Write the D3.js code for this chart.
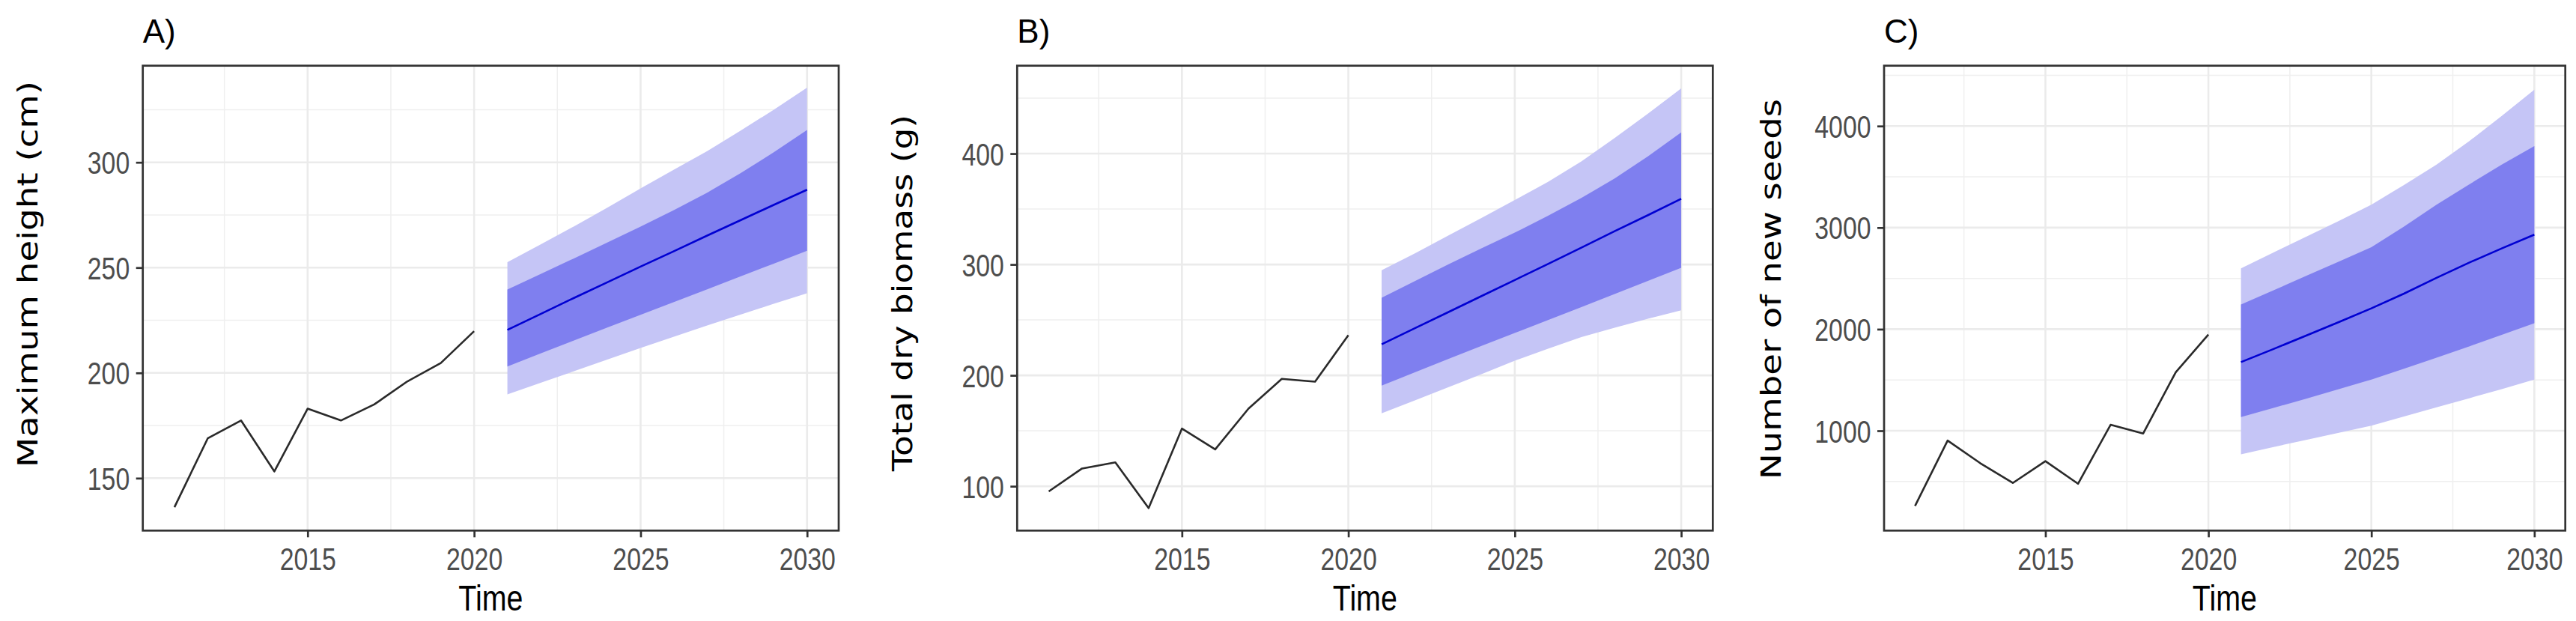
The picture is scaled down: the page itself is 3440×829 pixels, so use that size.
<!DOCTYPE html>
<html>
<head>
<meta charset="utf-8">
<script src="https://cdn.jsdelivr.net/npm/d3@7"></script>
<style>
  html, body { margin: 0; padding: 0; background: #ffffff; }
  svg { display: block; }
</style>
</head>
<body>
<svg id="chart" width="3440" height="829"></svg>
<script>
// ---------------- data ----------------
const obsYears = [2011, 2012, 2013, 2014, 2015, 2016, 2017, 2018, 2019, 2020];
const fcYears  = [2021, 2022, 2023, 2024, 2025, 2026, 2027, 2028, 2029, 2030];
const xTickValues = [2015, 2020, 2025, 2030];

const panelLabels = ["A)", "B)", "C)"];
const yTitles = ["Maximum height (cm)", "Total dry biomass (g)", "Number of new seeds"];
const xTitle = "Time";

// A) Maximum height
const heightObs  = [136.2, 168.9, 177.4, 153.2, 183.0, 177.4, 185.0, 196.0, 204.7, 219.8];
const heightMean = [220.4, 228.0, 235.6, 243.0, 250.5, 257.8, 265.2, 272.5, 279.8, 287.0];
const heightLo80 = [203.0, 209.3, 215.4, 221.5, 227.6, 233.6, 239.7, 245.8, 251.9, 258.0];
const heightHi80 = [239.6, 247.0, 254.4, 261.9, 269.5, 277.3, 285.6, 294.8, 304.8, 315.4];
const heightLo95 = [189.8, 195.3, 200.8, 206.3, 211.8, 217.2, 222.5, 227.7, 232.8, 237.8];
const heightHi95 = [252.6, 261.0, 269.6, 278.5, 287.6, 296.5, 305.3, 315.0, 325.0, 335.5];
const heightTicks = [150, 200, 250, 300];
const heightMinor = [175, 225, 275, 325];

// B) Total dry biomass
const biomassObs  = [95.3, 116.0, 121.5, 80.3, 152.0, 133.3, 170.0, 196.8, 194.3, 236.2];
const biomassMean = [228.0, 242.5, 257.0, 271.5, 286.0, 300.5, 315.2, 330.0, 344.5, 359.3];
const biomassLo80 = [190.7, 202.8, 214.7, 226.5, 238.2, 249.9, 261.6, 273.4, 285.2, 297.0];
const biomassHi80 = [270.0, 285.0, 300.0, 314.5, 328.7, 344.0, 360.0, 377.5, 397.5, 419.2];
const biomassLo95 = [165.8, 177.5, 189.2, 201.0, 213.3, 224.0, 234.5, 243.0, 251.0, 258.6];
const biomassHi95 = [294.8, 310.0, 326.0, 342.0, 358.1, 374.5, 393.0, 414.0, 436.0, 458.8];
const biomassTicks = [100, 200, 300, 400];
const biomassMinor = [150, 250, 350, 450];

// C) Number of new seeds
const seedsObs  = [260, 903, 681, 486, 700, 478, 1059, 973, 1577, 1947];
const seedsMean = [1676, 1805, 1937, 2070, 2205, 2350, 2505, 2655, 2795, 2930];
const seedsLo80 = [1135, 1225, 1315, 1410, 1504, 1610, 1720, 1830, 1945, 2058];
const seedsHi80 = [2242, 2383, 2524, 2665, 2807, 3010, 3225, 3425, 3620, 3803];
const seedsLo95 = [767, 840, 910, 980, 1050, 1140, 1230, 1320, 1410, 1504];
const seedsHi95 = [2598, 2755, 2910, 3065, 3225, 3420, 3620, 3850, 4100, 4357];
const seedsTicks = [1000, 2000, 3000, 4000];
const seedsMinor = [500, 1500, 2500, 3500, 4500];

// ---------------- drawing ----------------
const svg = d3.select("#chart");
const TICK_FONT = "'Liberation Sans Narrow', 'Arial Narrow', 'Liberation Sans', Arial, sans-serif";
const TITLE_FONT = "'DejaVu Sans', Verdana, sans-serif";

const panels = [
  { left: 190.7, right: 1120, yDomain: [125.1, 345.9], obs: heightObs, mean: heightMean,
    lo80: heightLo80, hi80: heightHi80, lo95: heightLo95, hi95: heightHi95,
    ticks: heightTicks, minor: heightMinor, titleX: 50, titleY: 366, titleLen: 516 },
  { left: 1358.3, right: 2287.3, yDomain: [60, 479.3], obs: biomassObs, mean: biomassMean,
    lo80: biomassLo80, hi80: biomassHi80, lo95: biomassLo95, hi95: biomassHi95,
    ticks: biomassTicks, minor: biomassMinor, titleX: 1218, titleY: 391, titleLen: 476 },
  { left: 2516, right: 3425.7, yDomain: [17, 4594], obs: seedsObs, mean: seedsMean,
    lo80: seedsLo80, hi80: seedsHi80, lo95: seedsLo95, hi95: seedsHi95,
    ticks: seedsTicks, minor: seedsMinor, titleX: 2378, titleY: 386, titleLen: 508 }
];

const TOP = 87.7, BOTTOM = 708.3;
const xMinor = [2012.5, 2017.5, 2022.5, 2027.5];

panels.forEach((p, i) => {
  const x = d3.scaleLinear().domain([2010.05, 2030.95]).range([p.left, p.right]);
  const y = d3.scaleLinear().domain(p.yDomain).range([BOTTOM, TOP]);
  const g = svg.append("g");

  g.append("rect").attr("x", p.left).attr("y", TOP)
    .attr("width", p.right - p.left).attr("height", BOTTOM - TOP).attr("fill", "#ffffff");

  // minor grid
  g.append("g").selectAll("line").data(p.minor).join("line")
    .attr("x1", p.left).attr("x2", p.right).attr("y1", d => y(d)).attr("y2", d => y(d))
    .attr("stroke", "#efefef").attr("stroke-width", 1.5);
  g.append("g").selectAll("line").data(xMinor).join("line")
    .attr("y1", TOP).attr("y2", BOTTOM).attr("x1", d => x(d)).attr("x2", d => x(d))
    .attr("stroke", "#efefef").attr("stroke-width", 1.5);
  // major grid
  g.append("g").selectAll("line").data(p.ticks).join("line")
    .attr("x1", p.left).attr("x2", p.right).attr("y1", d => y(d)).attr("y2", d => y(d))
    .attr("stroke", "#ebebeb").attr("stroke-width", 2.6);
  g.append("g").selectAll("line").data(xTickValues).join("line")
    .attr("y1", TOP).attr("y2", BOTTOM).attr("x1", d => x(d)).attr("x2", d => x(d))
    .attr("stroke", "#ebebeb").attr("stroke-width", 2.6);

  // forecast bands
  const fc = fcYears.map((yr, k) => ({ yr, mean: p.mean[k], lo80: p.lo80[k], hi80: p.hi80[k], lo95: p.lo95[k], hi95: p.hi95[k] }));
  g.append("path").datum(fc)
    .attr("d", d3.area().x(d => x(d.yr)).y0(d => y(d.lo95)).y1(d => y(d.hi95)))
    .attr("fill", "#c5c5f6");
  g.append("path").datum(fc)
    .attr("d", d3.area().x(d => x(d.yr)).y0(d => y(d.lo80)).y1(d => y(d.hi80)))
    .attr("fill", "#7f7fef");
  g.append("path").datum(fc)
    .attr("d", d3.line().x(d => x(d.yr)).y(d => y(d.mean)))
    .attr("fill", "none").attr("stroke", "#0000d2").attr("stroke-width", 2.6);

  // observed line
  const obs = obsYears.map((yr, k) => ({ yr, v: p.obs[k] }));
  g.append("path").datum(obs)
    .attr("d", d3.line().x(d => x(d.yr)).y(d => y(d.v)))
    .attr("fill", "none").attr("stroke", "#2a2a2a").attr("stroke-width", 2.6)
    .attr("stroke-linejoin", "round");

  // panel border
  g.append("rect").attr("x", p.left).attr("y", TOP)
    .attr("width", p.right - p.left).attr("height", BOTTOM - TOP)
    .attr("fill", "none").attr("stroke", "#333333").attr("stroke-width", 2.7);

  // x axis
  const xAxis = d3.axisBottom(x).tickValues(xTickValues).tickFormat(d3.format("d"))
    .tickSize(9).tickPadding(14);
  const xa = g.append("g").attr("transform", `translate(0,${BOTTOM})`).call(xAxis);
  xa.select(".domain").remove();
  xa.selectAll(".tick line").attr("stroke", "#333333").attr("stroke-width", 2.7);
  xa.selectAll(".tick text")
    .attr("fill", "#4d4d4d").attr("font-family", TICK_FONT).attr("font-size", 42)
    .attr("dy", "0.71em")
    .attr("textLength", d => String(d).length * 18.8).attr("lengthAdjust", "spacingAndGlyphs");

  // y axis
  const yAxis = d3.axisLeft(y).tickValues(p.ticks).tickFormat(d3.format("d"))
    .tickSize(9).tickPadding(8.5);
  const ya = g.append("g").attr("transform", `translate(${p.left},0)`).call(yAxis);
  ya.select(".domain").remove();
  ya.selectAll(".tick line").attr("stroke", "#333333").attr("stroke-width", 2.7);
  ya.selectAll(".tick text")
    .attr("fill", "#4d4d4d").attr("font-family", TICK_FONT).attr("font-size", 42)
    .attr("dy", "0.36em")
    .attr("textLength", d => String(d).length * 18.8).attr("lengthAdjust", "spacingAndGlyphs");

  // x title
  g.append("text").text(xTitle)
    .attr("x", (p.left + p.right) / 2).attr("y", 815)
    .attr("text-anchor", "middle").attr("font-family", TICK_FONT).attr("font-size", 48)
    .attr("fill", "#000000")
    .attr("textLength", 86).attr("lengthAdjust", "spacingAndGlyphs");

  // y title
  g.append("text").text(yTitles[i])
    .attr("transform", `translate(${p.titleX},${p.titleY}) rotate(-90)`)
    .attr("text-anchor", "middle").attr("font-family", TITLE_FONT).attr("font-size", 38)
    .attr("fill", "#000000")
    .attr("textLength", p.titleLen).attr("lengthAdjust", "spacingAndGlyphs");

  // panel label
  g.append("text").text(panelLabels[i])
    .attr("x", p.left).attr("y", 57)
    .attr("font-family", "'Liberation Sans', Arial, sans-serif").attr("font-size", 44)
    .attr("fill", "#000000");
});
</script>
</body>
</html>
